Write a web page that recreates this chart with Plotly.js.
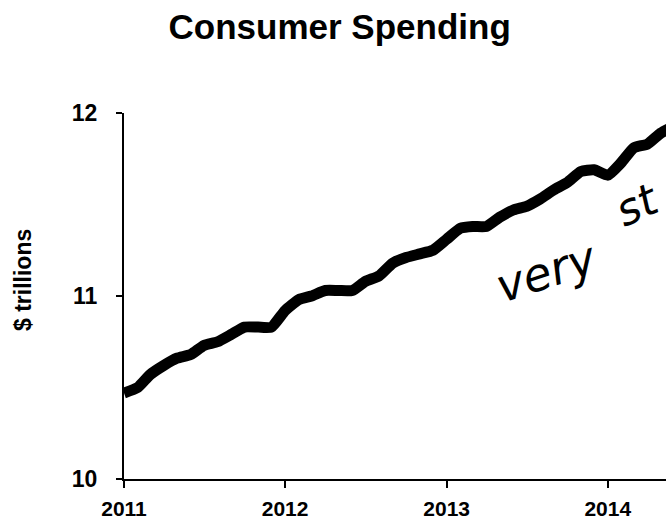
<!DOCTYPE html>
<html>
<head>
<meta charset="utf-8">
<script src="https://cdn.plot.ly/plotly-3.0.1.min.js"></script>
<style>
  html, body { margin: 0; padding: 0; background: #fff; overflow: hidden; }
  #chart { width: 666px; height: 523px; }
</style>
</head>
<body>
<div id="chart"></div>
<script>
const months = [
  "2011-01-01","2011-02-01","2011-03-01","2011-04-01","2011-05-01","2011-06-01",
  "2011-07-01","2011-08-01","2011-09-01","2011-10-01","2011-11-01","2011-12-01",
  "2012-01-01","2012-02-01","2012-03-01","2012-04-01","2012-05-01","2012-06-01",
  "2012-07-01","2012-08-01","2012-09-01","2012-10-01","2012-11-01","2012-12-01",
  "2013-01-01","2013-02-01","2013-03-01","2013-04-01","2013-05-01","2013-06-01",
  "2013-07-01","2013-08-01","2013-09-01","2013-10-01","2013-11-01","2013-12-01",
  "2014-01-01","2014-02-01","2014-03-01","2014-04-01","2014-05-01","2014-06-01"
];
const spending = [
  10.47, 10.50, 10.57, 10.62, 10.66, 10.68,
  10.73, 10.75, 10.79, 10.83, 10.83, 10.83,
  10.92, 10.98, 11.00, 11.03, 11.03, 11.03,
  11.08, 11.11, 11.18, 11.21, 11.23, 11.25,
  11.31, 11.37, 11.38, 11.38, 11.43, 11.47,
  11.49, 11.53, 11.58, 11.62, 11.68, 11.69,
  11.66, 11.73, 11.81, 11.83, 11.89, 11.93
];
const yearTicks = ["2011-01-01","2012-01-01","2013-01-01","2014-01-01"];
const yearLabels = ["2011","2012","2013","2014"];
const yTicks = [10, 11, 12];
const yLabels = ["10", "11", "12"];

const FONT = "Liberation Sans, Arial, Helvetica, sans-serif";
const HAND = "DejaVu Sans, sans-serif";

const trace = {
  x: months,
  y: spending,
  type: "scatter",
  mode: "lines",
  line: { color: "#000", width: 11, shape: "spline", smoothing: 0.5 },
  hoverinfo: "skip"
};

const layout = {
  width: 666,
  height: 523,
  paper_bgcolor: "#fff",
  plot_bgcolor: "#fff",
  showlegend: false,
  margin: { l: 124, r: 0, t: 113, b: 44 },
  title: {
    text: "Consumer Spending",
    font: { family: FONT, size: 35, color: "#000", weight: "bold" },
    x: 0.51, xanchor: "center",
    y: 0.948, yanchor: "middle", yref: "container"
  },
  xaxis: {
    type: "date",
    range: ["2011-01-01", "2014-05-13"],
    tickmode: "array",
    tickvals: yearTicks,
    ticktext: yearLabels,
    showgrid: false,
    zeroline: false,
    showline: true,
    linecolor: "#000",
    linewidth: 2,
    ticks: "outside",
    ticklen: 7,
    tickwidth: 2,
    tickcolor: "#000",
    ticklabelstandoff: 3,
    tickfont: { family: FONT, size: 21, color: "#000", weight: "bold" },
    fixedrange: true
  },
  yaxis: {
    range: [10, 12],
    tickmode: "array",
    tickvals: yTicks,
    ticktext: yLabels,
    showgrid: false,
    zeroline: false,
    showline: true,
    linecolor: "#000",
    linewidth: 2,
    ticks: "outside",
    ticklen: 6,
    tickwidth: 2,
    tickcolor: "#000",
    ticklabelstandoff: 14,
    tickfont: { family: FONT, size: 23, color: "#000", weight: "bold" },
    fixedrange: true
  },
  annotations: [
    {
      text: "$ trillions",
      xref: "paper", yref: "paper",
      x: (23 - 124) / 542, y: (479 - 280) / 366,
      xanchor: "center", yanchor: "middle",
      textangle: -90,
      showarrow: false,
      font: { family: FONT, size: 23, color: "#000", weight: "bold" }
    },
    {
      text: "very",
      xref: "paper", yref: "paper",
      x: (546 - 124) / 542, y: (479 - 272) / 366,
      xanchor: "center", yanchor: "middle",
      textangle: -18,
      showarrow: false,
      font: { family: HAND, size: 46, color: "#000", style: "italic", weight: 300 }
    },
    {
      text: "st",
      xref: "paper", yref: "paper",
      x: (637 - 124) / 542, y: (479 - 204) / 366,
      xanchor: "center", yanchor: "middle",
      textangle: -24,
      showarrow: false,
      font: { family: HAND, size: 44, color: "#000", style: "italic", weight: 300 }
    }
  ]
};

Plotly.newPlot("chart", [trace], layout, { staticPlot: true, displayModeBar: false });
</script>
</body>
</html>
